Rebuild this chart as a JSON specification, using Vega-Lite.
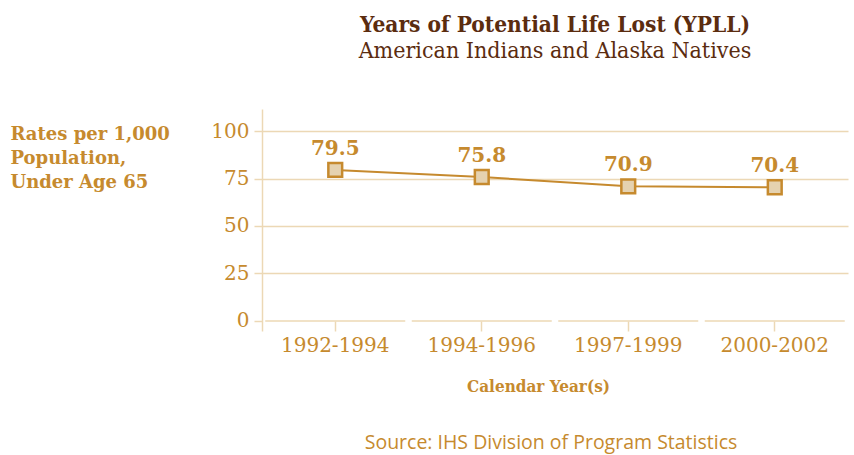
{
  "$schema": "https://vega.github.io/schema/vega-lite/v6.json",
  "padding": {"left": 10, "top": 13, "right": 4, "bottom": 2},
  "background": "white",
  "title": {"text": "Source: IHS Division of Program Statistics", "orient": "bottom", "font": "Open Sans", "fontSize": 19.5, "fontWeight": "normal", "color": "#c68a2e", "anchor": "middle", "dx": 122, "offset": 40},
  "vconcat": [
    {
      "width": 586,
      "height": 222,
      "title": {
        "text": "Years of Potential Life Lost (YPLL)",
        "subtitle": "American Indians and Alaska Natives",
        "font": "DejaVu Serif Condensed",
        "fontSize": 22.5,
        "fontWeight": "bold",
        "color": "#5b2c0f",
        "subtitleFont": "DejaVu Serif Condensed",
        "subtitleFontSize": 23,
        "subtitleColor": "#5b2c0f",
        "subtitlePadding": 4,
        "anchor": "middle",
        "frame": "group",
        "offset": 46
      },
      "data": {"values": [
        {"period": "1992-1994", "rate": 79.5},
        {"period": "1994-1996", "rate": 75.8},
        {"period": "1997-1999", "rate": 70.9},
        {"period": "2000-2002", "rate": 70.4}
      ]},
      "encoding": {
        "x": {"field": "period", "type": "nominal", "sort": null,
          "scale": {"type": "band", "paddingInner": 0, "paddingOuter": 0},
          "axis": {"title": "Calendar Year(s)", "labelAngle": 0, "domain": false, "offset": -10,
            "tickSize": 10, "tickColor": "#ecd8b5", "tickWidth": 1.5,
            "labelFont": "DejaVu Serif", "labelFontSize": 20, "labelColor": "#c68a2e", "labelPadding": 4,
            "titleFont": "DejaVu Serif Condensed", "titleFontWeight": "bold", "titleFontSize": 17, "titleColor": "#c68a2e", "titlePadding": 23,
            "titleX": 276}
        }
      },
      "layer": [
        {
          "mark": {"type": "tick", "size": 140, "thickness": 1.5, "color": "#ecd8b5", "opacity": 1, "orient": "horizontal"},
          "encoding": {"y": {"datum": 0, "type": "quantitative"}}
        },
        {
          "mark": {"type": "line", "color": "#c68a2e", "strokeWidth": 2},
          "encoding": {
            "y": {"field": "rate", "type": "quantitative",
              "scale": {"domain": [-5.3, 111.6], "nice": false, "zero": false},
              "axis": {
                "values": [0, 25, 50, 75, 100],
                "title": ["Rates per 1,000", "Population,", "Under Age 65"],
                "titleAngle": 0, "titleAlign": "left", "titleBaseline": "top",
                "titleX": -252, "titleY": 16, "titleLineHeight": 24,
                "titleFont": "DejaVu Serif", "titleFontWeight": "bold", "titleFontSize": 18, "titleColor": "#c68a2e",
                "domainColor": "#ecd8b5", "domainWidth": 1.5,
                "tickColor": "#ecd8b5", "tickSize": 8, "tickWidth": 1.5,
                "grid": true, "gridColor": "#ecd8b5", "gridWidth": 1.5,
                "gridOpacity": {"condition": {"test": "datum.value === 0", "value": 0}, "value": 1},
                "labelFont": "DejaVu Serif", "labelFontSize": 20, "labelColor": "#c68a2e", "labelPadding": 5
              }
            }
          }
        },
        {
          "mark": {"type": "point", "shape": "square", "size": 190, "filled": true, "fill": "#e5d2b0", "stroke": "#c68a2e", "strokeWidth": 2.5, "opacity": 1},
          "encoding": {"y": {"field": "rate", "type": "quantitative"}}
        },
        {
          "mark": {"type": "text", "dy": -21, "font": "DejaVu Serif", "fontSize": 20, "fontWeight": "bold", "color": "#c68a2e"},
          "encoding": {
            "y": {"field": "rate", "type": "quantitative"},
            "text": {"field": "rate", "type": "quantitative", "format": ".1f"}
          }
        }
      ]
    }
  ],
  "config": {"view": {"stroke": null}}
}
